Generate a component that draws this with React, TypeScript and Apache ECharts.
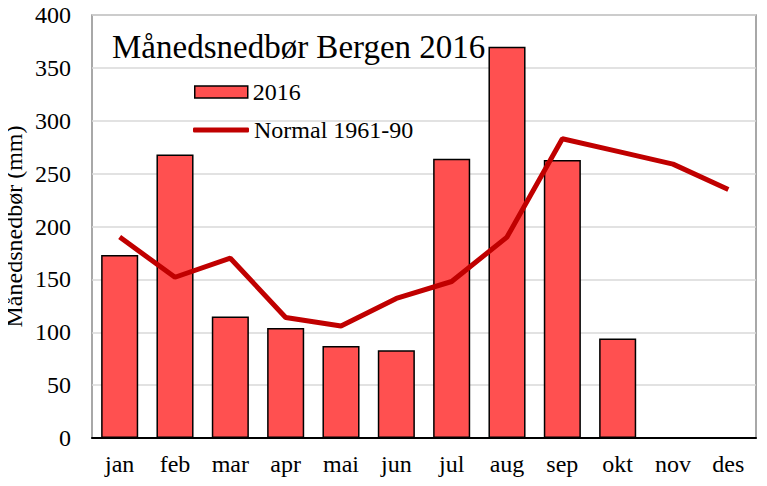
import React, { useEffect, useRef } from "react";
import * as echarts from "echarts";

const months = ["jan", "feb", "mar", "apr", "mai", "jun", "jul", "aug", "sep", "okt", "nov", "des"];
const rain2016: (number | null)[] = [173, 268, 115, 104, 87, 83, 264, 370, 263, 94, null, null];
const normal: number[] = [190, 152, 170, 114, 106, 132, 148, 190, 283, 271, 259, 235];
const yTicks = { min: 0, max: 400, interval: 50 };

const FONT = "'Liberation Serif', 'Times New Roman', serif";

export default function App() {
  const ref = useRef<HTMLDivElement>(null);
  useEffect(() => {
    if (!ref.current) return;
    const chart = echarts.init(ref.current, undefined, { renderer: "svg" });
    chart.setOption({
      animation: false,
      backgroundColor: "#ffffff",
      textStyle: { fontFamily: FONT, color: "#000" },
      title: {
        text: "Månedsnedbør Bergen 2016",
        left: 107,
        top: 25,
        textStyle: { fontFamily: FONT, fontSize: 33, fontWeight: "normal", color: "#000" },
      },
      legend: [
        {
          data: [{ name: "2016", icon: "rect" }],
          left: 189,
          top: 75,
          itemWidth: 53,
          itemHeight: 12,
          itemGap: 5,
          textStyle: { fontFamily: FONT, fontSize: 24, color: "#000" },
          itemStyle: { borderColor: "#000", borderWidth: 1.5 },
        },
        {
          data: [{ name: "Normal 1961-90", icon: "roundRect" }],
          left: 188,
          top: 113,
          itemWidth: 56,
          itemHeight: 5,
          textStyle: { fontFamily: FONT, fontSize: 24, color: "#000" },
        },
      ],
      grid: {
        left: 92,
        right: 11,
        top: 15,
        bottom: 48,
        show: true,
        borderColor: "#8c8c8c",
        borderWidth: 1.5,
        containLabel: false,
        outerBoundsMode: "none",
      },
      xAxis: {
        type: "category",
        data: months,
        axisLine: { lineStyle: { color: "#000", width: 2 } },
        axisTick: { show: false },
        axisLabel: { fontFamily: FONT, fontSize: 24, color: "#000", margin: 14 },
      },
      yAxis: {
        type: "value",
        min: yTicks.min,
        max: yTicks.max,
        interval: yTicks.interval,
        name: "Månedsnedbør (mm)",
        nameLocation: "middle",
        nameRotate: 90,
        nameGap: 66,
        nameMoveOverlap: false,
        nameTextStyle: { fontFamily: FONT, fontSize: 24, color: "#000" },
        axisLine: { show: false },
        axisTick: { show: false },
        axisLabel: { fontFamily: FONT, fontSize: 24, color: "#000", margin: 21 },
        splitLine: { lineStyle: { color: "#d9d9d9", width: 1.5 } },
      },
      series: [
        {
          name: "2016",
          type: "bar",
          data: rain2016,
          barCategoryGap: "33%",
          itemStyle: { color: "#ff5050", borderColor: "#000", borderWidth: 1.5 },
        },
        {
          name: "Normal 1961-90",
          type: "line",
          data: normal,
          symbol: "none",
          lineStyle: { color: "#c00000", width: 5 },
          itemStyle: { color: "#c00000" },
        },
      ],
    });
    return () => chart.dispose();
  }, []);
  return <div ref={ref} style={{ width: 767, height: 486, margin: -8 }} />;
}
